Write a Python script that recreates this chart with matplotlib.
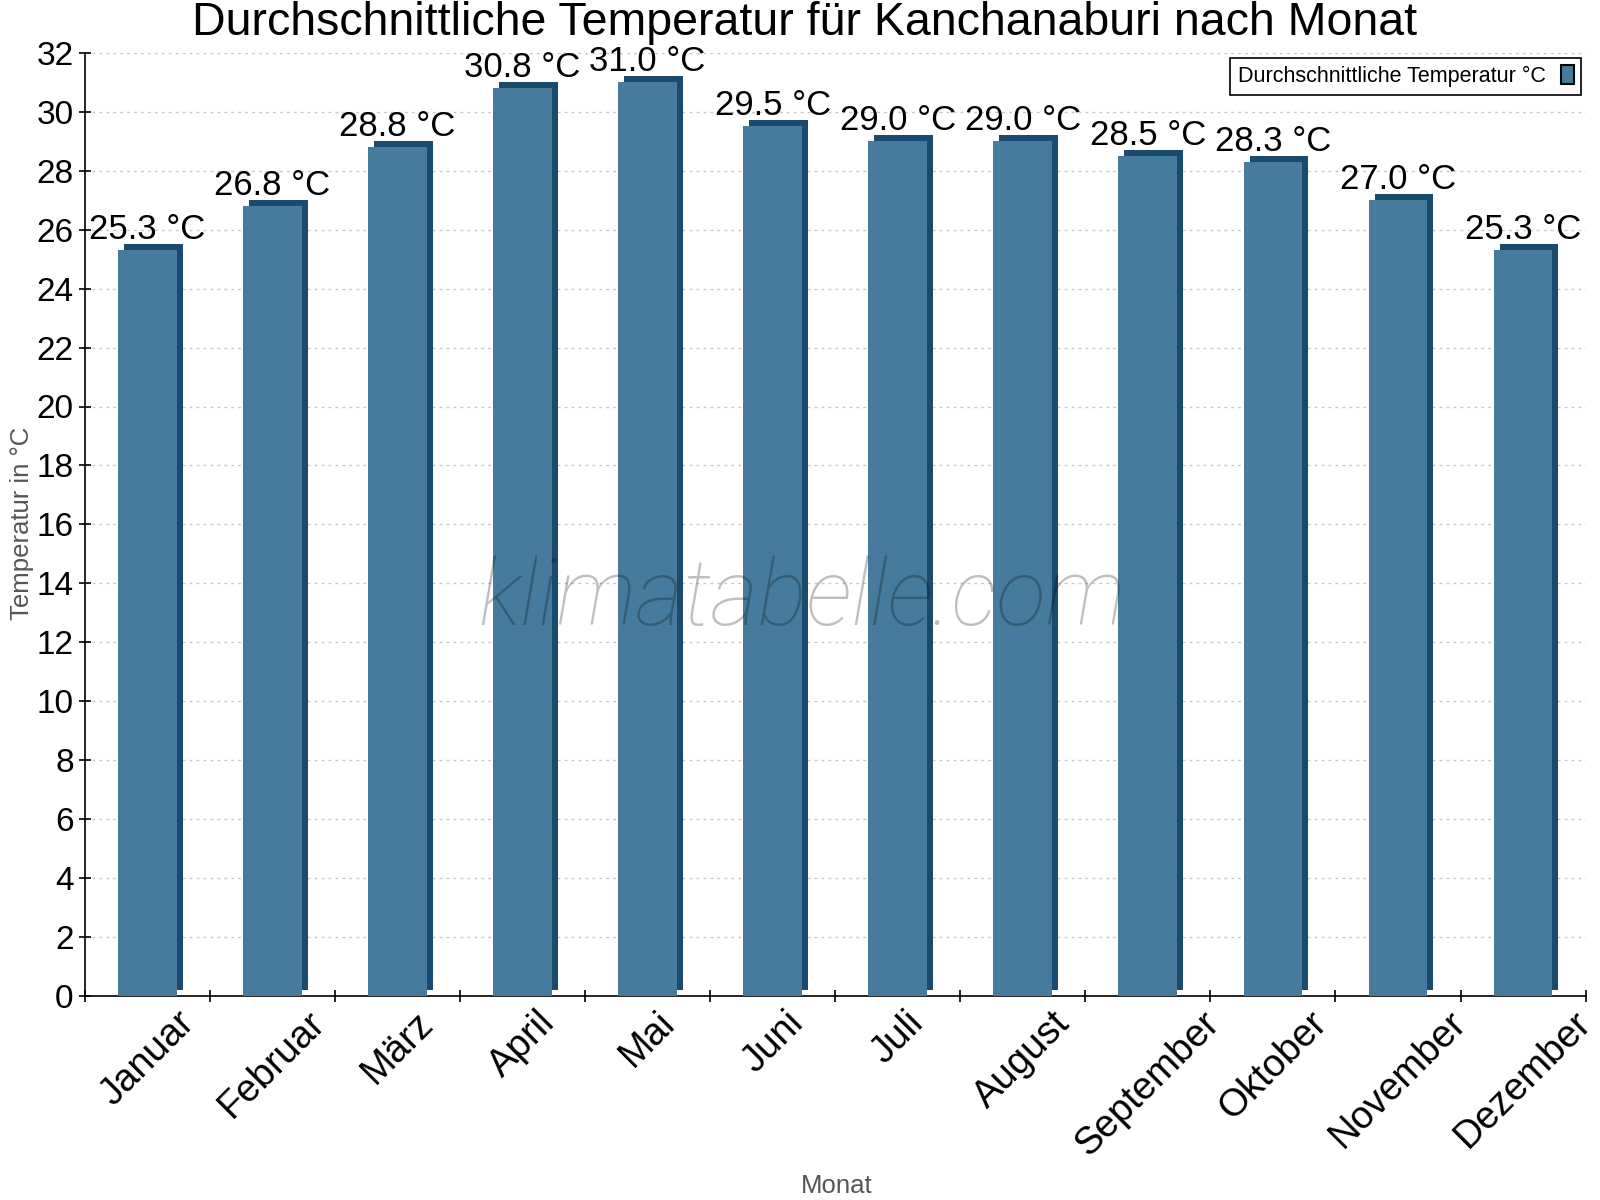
import matplotlib
matplotlib.use("Agg")
import matplotlib.pyplot as plt
import matplotlib.transforms as mtransforms
from matplotlib.patches import Patch
import numpy as np

months = ["Januar", "Februar", "März", "April", "Mai", "Juni", "Juli",
          "August", "September", "Oktober", "November", "Dezember"]
temps = [25.3, 26.8, 28.8, 30.8, 31.0, 29.5, 29.0, 29.0, 28.5, 28.3, 27.0, 25.3]
yticks = list(range(0, 33, 2))

title = "Durchschnittliche Temperatur für Kanchanaburi nach Monat"
series_name = "Durchschnittliche Temperatur °C"

FRONT = "#467b9d"
DARK = "#1a4b6e"

plt.rcParams['font.family'] = ['Liberation Sans', 'DejaVu Sans']

fig = plt.figure(figsize=(16, 12), dpi=100)
ax = fig.add_axes([0.053, 0.17, 0.938, 0.786])

x = np.arange(len(months))
width = 0.47

# 3D-ish extrusion: dark bar shifted right/up behind the front bar
shift = mtransforms.ScaledTranslation(6 / 100, 6 / 100, fig.dpi_scale_trans)
ax.bar(x, temps, width=width, color=DARK, transform=ax.transData + shift,
       zorder=2, linewidth=0)
ax.bar(x, temps, width=width, color=FRONT, zorder=3, linewidth=0)

for xi, t in zip(x, temps):
    ax.annotate(f"{t:.1f} °C", (xi, t), xytext=(0, 3), textcoords="offset points",
                ha="center", va="bottom", fontsize=25, color="black", zorder=5)

ax.set_xlim(-0.5, len(months) - 0.5)
ax.set_ylim(0, 32)
ax.set_yticks(yticks)
ax.set_yticklabels([str(v) for v in yticks], fontsize=24)
ax.yaxis.grid(True, linestyle=(0, (2, 3)), color="#c8c8c8", linewidth=1)
ax.set_axisbelow(True)

ax.set_xticks(np.arange(-0.5, len(months), 1.0))
ax.set_xticklabels([])
ax.tick_params(axis="x", direction="inout", length=8, width=1.2)
ax.tick_params(axis="y", direction="inout", length=8, width=1.2, pad=4)
for xi, m in zip(x, months):
    ax.text(xi, -0.3, m, rotation=45, ha="center", va="top", fontsize=27.5,
            transform=ax.transData, rotation_mode="default")

for s in ["top", "right"]:
    ax.spines[s].set_visible(False)
ax.spines["left"].set_linewidth(1.2)
ax.spines["bottom"].set_linewidth(1.2)

fig.text(0.0135, 0.564, "Temperatur in °C", fontsize=18.5, color="#555555",
         rotation=90, ha="center", va="center")
fig.text(0.523, 0.002, "Monat", fontsize=18.5, color="#555555", ha="center", va="bottom")

fig.text(0.503, 0.999, title, fontsize=33.5, ha="center", va="top")

ax.text(0.478, 0.42, "klimatabelle.com", transform=ax.transAxes, fontsize=66,
        family=["Roboto", "DejaVu Sans"], fontweight="light", style="italic",
        color="black", alpha=0.25, ha="center", va="center", zorder=6)

handle = Patch(facecolor=FRONT, edgecolor="black", linewidth=1.5)
leg = ax.legend([handle], [series_name], loc="upper right", bbox_to_anchor=(0.997, 0.995),
                fontsize=15.5, markerfirst=False, fancybox=False, framealpha=1,
                edgecolor="black", handlelength=0.6, handleheight=1.0,
                borderpad=0.35, handletextpad=0.7, borderaxespad=0)
leg.get_frame().set_linewidth(1.2)

fig.savefig("out.png", dpi=100)
